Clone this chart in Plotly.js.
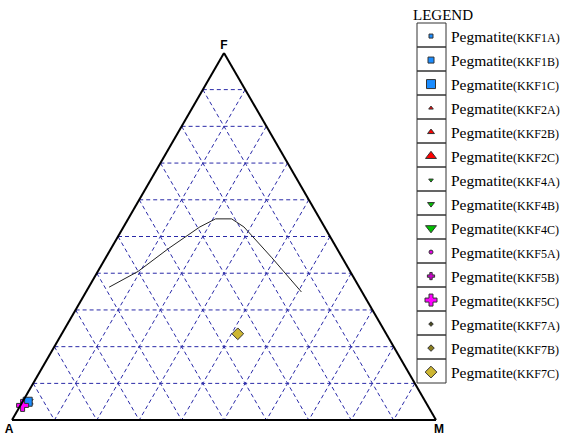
<!DOCTYPE html>
<html>
<head>
<meta charset="utf-8">
<script src="https://cdn.plot.ly/plotly-3.0.1.min.js"></script>
<style>
  html, body { margin: 0; padding: 0; background: #fff; }
  #chart { width: 573px; height: 438px; }
</style>
</head>
<body>
<div id="chart"></div>
<script>
// AFM ternary, values in percent (F = a axis, A = b axis, M = c axis)

const boundaryA = [59, 50, 39.6, 29.4, 24.6, 20.8, 19, 16.6, 14.3];
const boundaryF = [36.2, 40.5, 46.8, 52.6, 54.8, 54.8, 52.6, 44.2, 34.9];
const boundaryM = [4.8, 9.5, 13.6, 18, 20.6, 24.4, 28.4, 39.2, 50.8];

const samples = [
	'KKF1A', 'KKF1B', 'KKF1C',
	'KKF2A', 'KKF2B', 'KKF2C',
	'KKF4A', 'KKF4B', 'KKF4C',
	'KKF5A', 'KKF5B', 'KKF5C',
	'KKF7A', 'KKF7B', 'KKF7C',
];
const sampleA = [93.8, 93.8, 93.8, 93.8, 93.8, 93.8, 93.8, 93.8, 93.8, 95.5, 95.5, 95.5, 35, 35, 35];
const sampleF = [5.0, 5.0, 5.0, 5.0, 5.0, 5.0, 5.0, 5.0, 5.0, 4.0, 4.0, 4.0, 23.5, 23.5, 23.5];
const sampleM = [1.2, 1.2, 1.2, 1.2, 1.2, 1.2, 1.2, 1.2, 1.2, 0.5, 0.5, 0.5, 41.5, 41.5, 41.5];

// 10 % grid
const gridVals = [10, 20, 30, 40, 50, 60, 70, 80, 90];

// marker styles per sample
const symbols = [
	'square', 'square', 'square',
	'triangle-up', 'triangle-up', 'triangle-up',
	'triangle-down', 'triangle-down', 'triangle-down',
	'circle', 'cross', 'cross',
	'diamond', 'diamond', 'diamond',
];
const sizes = [4, 6, 9, 4, 6, 9.5, 4, 6, 9.5, 4, 6, 10, 3.5, 5, 9];
const colors = [
	'#1a8cff', '#1a8cff', '#1a8cff',
	'#ff0000', '#ff0000', '#ff0000',
	'#00c000', '#00c000', '#00c000',
	'#e600e6', '#cc00cc', '#ff00ff',
	'#4a4a20', '#8a7d20', '#cdb632',
];
// draw order so the big markers stay on top
const drawOrder = [3, 4, 5, 6, 7, 8, 0, 1, 2, 9, 10, 11, 12, 13, 14];

const serif = 'Liberation Serif, Times New Roman, serif';
const SUM = 100;

// grid lines: one trace per axis family, segments split by nulls
function gridTrace(which) {
	var a = [], b = [], c = [];
	gridVals.forEach(function (v) {
		var r = SUM - v;
		if (which === 'a') { a.push(v, v, null); b.push(r, 0, null); c.push(0, r, null); }
		if (which === 'b') { b.push(v, v, null); a.push(r, 0, null); c.push(0, r, null); }
		if (which === 'c') { c.push(v, v, null); a.push(r, 0, null); b.push(0, r, null); }
	});
	return {
		type: 'scatterternary',
		mode: 'lines',
		a: a, b: b, c: c,
		connectgaps: false,
		line: { color: '#2a2aa8', width: 1, dash: '4px,3px' },
		showlegend: false,
		hoverinfo: 'skip',
	};
}

var data = [gridTrace('a'), gridTrace('b'), gridTrace('c')];

data.push({
	type: 'scatterternary',
	mode: 'lines',
	a: boundaryF,
	b: boundaryA,
	c: boundaryM,
	line: { color: '#222', width: 1 },
	showlegend: false,
	hoverinfo: 'skip',
});

drawOrder.forEach(function (i) {
	data.push({
		type: 'scatterternary',
		mode: 'markers',
		a: [sampleF[i]],
		b: [sampleA[i]],
		c: [sampleM[i]],
		name: 'Pegmatite<span style="font-size:12px">(' + samples[i] + ')</span>',
		legendgroup: samples[i],
		legendrank: i + 1,
		cliponaxis: false,
		marker: {
			symbol: symbols[i],
			size: sizes[i],
			color: colors[i],
			line: { color: '#333', width: 1 },
		},
	});
});

var axis = function (label) {
	return {
		title: { text: label, font: { family: 'Liberation Sans, Arial, sans-serif', size: 12, color: '#000', weight: 'bold' } },
		min: 0,
		showticklabels: false,
		ticks: '',
		showgrid: false,
		showline: true,
		linecolor: '#000',
		linewidth: 2,
	};
};

// legend cell boxes
var rowH = 24;
var boxTop = 23;
var boxL = 417, boxR = 446;
var W = 573, H = 438;
var shapes = [];
samples.forEach(function (s, k) {
	shapes.push({
		type: 'rect',
		xref: 'paper', yref: 'paper',
		x0: boxL / W, x1: boxR / W,
		y0: 1 - (boxTop + (k + 1) * rowH) / H,
		y1: 1 - (boxTop + k * rowH) / H,
		line: { color: '#333', width: 1 },
	});
});

var layout = {
	width: W,
	height: H,
	margin: { l: 0, r: 0, t: 0, b: 0 },
	paper_bgcolor: '#fff',
	font: { family: serif, size: 15.5, color: '#000' },
	showlegend: true,
	ternary: {
		sum: SUM,
		domain: { x: [12 / W, 436 / W], y: [17 / H, 386 / H] },
		bgcolor: '#fff',
		aaxis: axis('F'),
		baxis: axis('A'),
		caxis: axis('M'),
	},
	legend: {
		x: 411 / W,
		xanchor: 'left',
		y: 1,
		yanchor: 'top',
		traceorder: 'grouped',
		tracegroupgap: 0.85,
		bgcolor: 'rgba(0,0,0,0)',
		title: { text: 'LEGEND', font: { family: serif, size: 15 } },
		font: { family: serif, size: 15.5, color: '#000' },
	},
	shapes: shapes,
};

Plotly.newPlot('chart', data, layout, { displayModeBar: false, staticPlot: true });
</script>
</body>
</html>
